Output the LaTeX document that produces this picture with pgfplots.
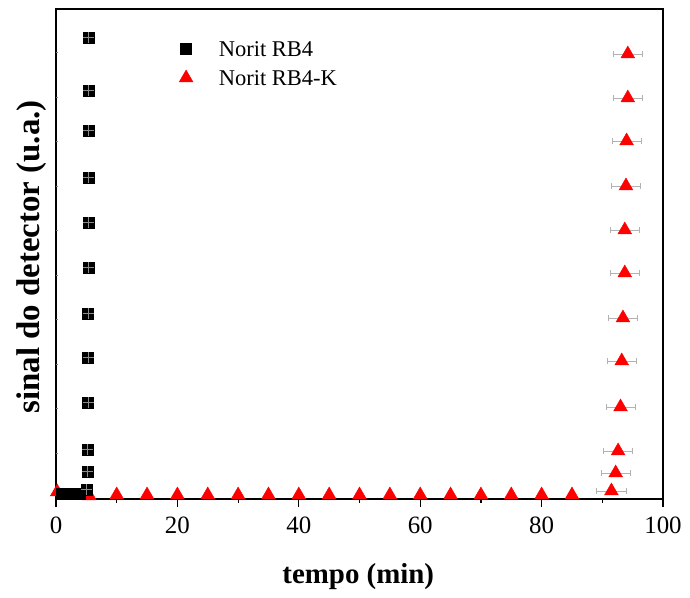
\documentclass[border=0pt]{standalone}
\usepackage{pgfplots}
\pgfplotsset{compat=1.18}
\usepackage{fontspec}
\setmainfont{Liberation Serif}
\begin{document}
\begin{tikzpicture}[x=1bp,y=1bp]
\path[use as bounding box] (-56,-99) rectangle (634,499);
\begin{axis}[
  at={(0,0)}, anchor=south west,
  scale only axis, width=607bp, height=490bp,
  xmin=0, xmax=100, ymin=0, ymax=490,
  axis line style={line width=1.6bp, black},
  tick align=outside,
  xtick={0,20,40,60,80,100},
  minor xtick={10,30,50,70,90},
  xtick pos=bottom,
  major tick length=8bp, minor tick length=4bp,
  every tick/.style={black, line width=1.2bp},
  ytick=\empty,
  extra y ticks={1.3,45.8,90.3,134.8,179.3,223.8,268.3,312.8,357.3,401.8,446.3},
  extra y tick labels={},
  extra y tick style={tick align=inside, major tick length=2.5bp, ytick pos=left, tick style={gray, line width=0.6bp}},
  ytick pos=left,
  /pgf/number format/assume math mode=true,
  x tick label style={font=\fontsize{25}{30}\selectfont, yshift=-6bp},
  xlabel={tempo (min)},
  ylabel={sinal do detector (u.a.)},
  x label style={at={(axis description cs:0.498,0)}, anchor=base, yshift=-84bp, font=\fontsize{29}{34}\selectfont\bfseries},
  y label style={at={(axis description cs:0,0.494)}, anchor=base, yshift=16bp, font=\fontsize{33}{38}\selectfont\bfseries},
  legend style={draw=none, fill=none, inner sep=0pt, outer sep=0pt,
    at={(axis description cs:0.200,0.948)}, anchor=north west,
    font=\fontsize{22.6}{27}\selectfont,
    nodes={text height=15bp, text depth=0bp, inner sep=7bp},
    legend cell align=left},
  legend image code/.code={\path (0cm,0cm) (0.6cm+17bp,0cm); \draw[#1] plot coordinates {(0.3cm,0cm)};},
]
\addlegendimage{only marks, mark=square*, mark size=5.5bp, black}
\addlegendentry{Norit RB4}
\addlegendimage{only marks, mark=triangle*, mark size=8bp, red, draw=red}
\addlegendentry{Norit RB4-K}

% Norit RB4-K (triangles), near-zero row
\addplot[only marks, mark=triangle*, mark size=8bp, color=red, forget plot] coordinates {
(0.2,7) (5.5,3) (10,4) (15,4) (20,4) (25,4) (30,4) (35,4) (40,4) (45,4) (50,4)
(55,4) (60,4) (65,4) (70,4) (75,4) (80,4) (85,4)};
% Norit RB4-K with x error bars
\addplot[only marks, mark=triangle*, mark size=8bp, color=red, forget plot,
  error bars/.cd, x dir=both, x explicit,
  error mark=|,
  error bar style={color=black!30, line width=0.9bp},
  error mark options={mark size=3.2bp, color=black!30, line width=0.9bp}]
  table[x=x, y=y, x error=ex] {
x y ex
91.5 8 2.4
92.2 26 2.4
92.6 48 2.4
93.0 92 2.4
93.2 138 2.4
93.4 181 2.4
93.7 226 2.4
93.7 269 2.4
93.9 313 2.4
94.0 358 2.4
94.2 401 2.4
94.2 445 2.4
};

% Norit RB4 (squares) band near zero
\addplot[only marks, mark=square*, mark size=5.5bp, black, forget plot] coordinates {
(0.9,5) (1.2,5) (1.5,5) (1.8,5) (2.1,5) (2.4,5) (2.7,5) (3.0,5) (3.3,5) (3.6,5) (3.9,5)};
% Norit RB4 column
\addplot[only marks, mark=square*, mark size=5.5bp, black, forget plot] coordinates {
(5.1,9) (5.2,27) (5.2,49) (5.3,96) (5.3,141) (5.3,185) (5.4,231) (5.4,276) (5.4,321) (5.4,368) (5.4,408) (5.4,461)};
\addplot[only marks, mark=+, mark size=5.5bp, black!45, line width=1bp, forget plot] coordinates {
(5.1,9) (5.2,27) (5.2,49) (5.3,96) (5.3,141) (5.3,185) (5.4,231) (5.4,276) (5.4,321) (5.4,368) (5.4,408) (5.4,461)};
\end{axis}
\end{tikzpicture}
\end{document}
